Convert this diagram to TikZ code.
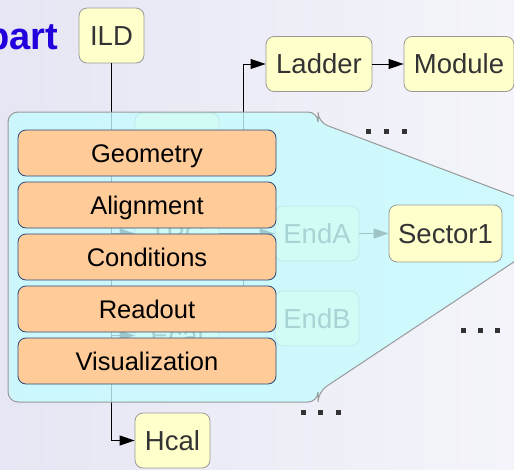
\documentclass[tikz,border=0pt]{standalone}
\usepackage{fontspec}
\setmainfont{Liberation Sans}
\usetikzlibrary{arrows.meta}
\definecolor{bgA}{HTML}{E6E6F4}
\definecolor{bgB}{HTML}{F4F4FA}
\definecolor{yfill}{HTML}{FFFFCC}
\definecolor{ydraw}{HTML}{999999}
\definecolor{ytext}{HTML}{333333}
\definecolor{ofill}{HTML}{FFCC99}
\definecolor{odraw}{HTML}{2A4A7A}
\definecolor{cfill}{HTML}{C6FBFE}
\definecolor{cdraw}{HTML}{999999}
\definecolor{partblue}{HTML}{2200DD}
\definecolor{ghost}{HTML}{9FC4C6}
\definecolor{dotc}{HTML}{333333}
\begin{document}
\begin{tikzpicture}[x=1pt,y=-1pt,
  ybox/.style={draw=ydraw, fill=yfill, text=ytext, rounded corners=8pt, line width=0.8pt,
    inner sep=0pt, minimum height=55pt, text height=19.7pt, text depth=0pt,
    font=\fontsize{27.5}{32}\selectfont},
  gbox/.style={ybox, minimum width=84pt},
  obox/.style={draw=odraw, fill=ofill, text=black, rounded corners=8pt, line width=0.8pt,
    inner sep=0pt, minimum width=258pt, minimum height=46pt, text height=18.3pt, text depth=0pt,
    font=\fontsize{25.5}{30}\selectfont},
  arr/.style={draw=black, line width=1pt, -{Triangle[length=15pt,width=10pt]}},
  garr/.style={draw=ghost, line width=1pt, -{Triangle[length=15pt,width=10pt]}},
  dotsq/.style={fill=dotc}
]
\useasboundingbox (0,0) rectangle (514,469);
\clip (0,0) rectangle (514,469);
\shade[left color=bgA, right color=bgB] (0,0) rectangle (514,469);

% title fragment
\node[anchor=base east, inner sep=0pt, text=partblue, font=\fontsize{38}{42}\selectfont\bfseries] (part) at (58,49) {part};

% tree (behind the callout)
\node[ybox, minimum width=65pt] (ILD) at (111.5,35.5) {ILD};
\node[ybox, minimum width=106pt] (Ladder) at (319,64) {Ladder};
\node[ybox, minimum width=110pt] (Module) at (459,64) {Module};
\node[ybox, minimum width=75pt] (Hcal) at (172.5,440.5) {Hcal};
\node[gbox] (VXD) at (177,140.5) {VXD};
\node[gbox] (TPC) at (177,233.5) {TPC};
\node[gbox] (Ecal) at (177,335.5) {Ecal};
\node[gbox] (EndA) at (317,233.5) {EndA};
\node[gbox] (EndB) at (317,318.5) {EndB};

\coordinate (jA) at (243,140.5);
\coordinate (jB) at (243,233.5);
\draw[arr] (ILD.south) |- (Hcal.west);
\draw[arr] (ILD.south) |- (VXD.west);
\draw[arr] (ILD.south) |- (TPC.west);
\draw[arr] (ILD.south) |- (Ecal.west);
\draw[line width=1pt] (VXD.east) -- (jA);
\draw[arr] (jA) |- (Ladder.west);
\draw[arr] (Ladder.east) -- (Module.west);
\draw[line width=1pt] (TPC.east) -- (jB);
\draw[arr] (jB) -- (EndA.west);
\draw[arr] (jB) |- (EndB.west);

% callout
\draw[draw=cdraw, fill=cfill, fill opacity=0.8, line width=1pt, rounded corners=10pt]
  (8,402) -- (8,112) -- (318,112) -- (318,122) -- (577,220) -- (318,392) -- (318,402) -- cycle;

% components
\node[obox] (Geo) at (147,153) {Geometry};
\node[obox] (Ali) at (147,205) {Alignment};
\node[obox] (Con) at (147,257) {Conditions};
\node[obox] (Rea) at (147,309) {Readout};
\node[obox] (Vis) at (147,361) {Visualization};

\node[ybox, minimum width=113pt, minimum height=57pt] (Sector1) at (445.5,233.5) {Sector1};
\draw[garr] (EndA.east) -- (Sector1.west);

% ellipses
\foreach \x in {366,384,402} \fill[dotsq] (\x,128.5) rectangle ++(5,5);
\foreach \x in {461,478,495} \fill[dotsq] (\x,327.5) rectangle ++(5,5);
\foreach \x in {301,318,336} \fill[dotsq] (\x,409.5) rectangle ++(5,5);
\end{tikzpicture}
\end{document}
